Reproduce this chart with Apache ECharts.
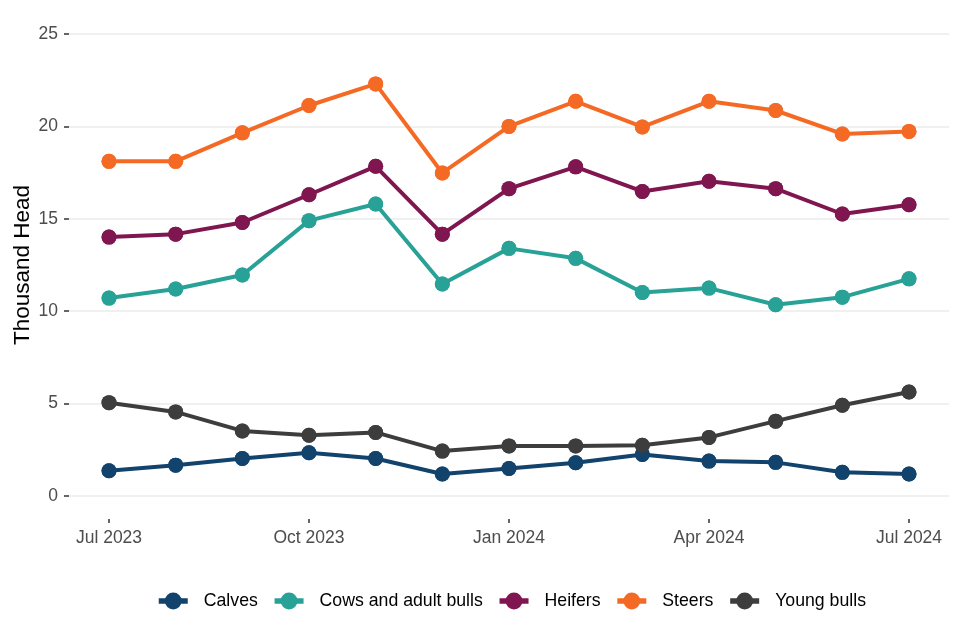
<!DOCTYPE html>
<html>
<head>
<meta charset="utf-8">
<script src="https://cdn.jsdelivr.net/npm/echarts@6/dist/echarts.min.js"></script>
<style>
html,body{margin:0;padding:0;background:#fff;}
#chart{width:960px;height:640px;}
</style>
</head>
<body>
<div id="chart"></div>
<script>
// Months (index 0 = Jul 2023 ... 12 = Jul 2024)
const months = ['2023-07','2023-08','2023-09','2023-10','2023-11','2023-12','2024-01','2024-02','2024-03','2024-04','2024-05','2024-06','2024-07'];
const tickPositions = [0, 3, 6, 9, 12];
const tickLabels = ['Jul 2023', 'Oct 2023', 'Jan 2024', 'Apr 2024', 'Jul 2024'];
const yTicks = [0, 5, 10, 15, 20, 25];

const seriesNames = ['Calves', 'Cows and adult bulls', 'Heifers', 'Steers', 'Young bulls'];
const calves     = [1.37, 1.67, 2.03, 2.34, 2.03, 1.19, 1.49, 1.80, 2.25, 1.89, 1.82, 1.28, 1.19];
const cows       = [10.71, 11.20, 11.96, 14.90, 15.80, 11.47, 13.40, 12.86, 11.01, 11.25, 10.35, 10.76, 11.75];
const heifers    = [14.01, 14.17, 14.80, 16.30, 17.84, 14.17, 16.63, 17.81, 16.48, 17.03, 16.63, 15.26, 15.76];
const steers     = [18.11, 18.11, 19.65, 21.13, 22.30, 17.48, 20.00, 21.36, 19.97, 21.36, 20.86, 19.59, 19.73];
const youngBulls = [5.05, 4.55, 3.52, 3.29, 3.44, 2.43, 2.71, 2.71, 2.75, 3.17, 4.05, 4.91, 5.63];
const colors = ['#12436D', '#28A197', '#801650', '#F46A25', '#3D3D3D'];

const allValues = [calves, cows, heifers, steers, youngBulls];

function pairs(vals) { return vals.map((v, i) => [i, v]); }

const lineSeries = seriesNames.map((name, k) => ({
  name: name,
  type: 'line',
  data: pairs(allValues[k]),
  symbol: 'circle',
  symbolSize: 15,
  showSymbol: true,
  lineStyle: { width: 4, color: colors[k] },
  itemStyle: { color: colors[k] },
  emphasis: { disabled: true },
  z: 2,
  animation: false
}));
const pointSeries = seriesNames.map((name, k) => ({
  name: name,
  type: 'scatter',
  data: pairs(allValues[k]),
  symbol: 'circle',
  symbolSize: 15,
  itemStyle: { color: colors[k], opacity: 1 },
  emphasis: { disabled: true },
  silent: true,
  z: 3,
  animation: false
}));

const chart = echarts.init(document.getElementById('chart'), null, { renderer: 'canvas' });
chart.setOption({
  backgroundColor: '#ffffff',
  animation: false,
  textStyle: { fontFamily: '"Liberation Sans", Arial, sans-serif' },
  color: colors,
  grid: { left: 69, right: 11, top: 34, bottom: 144, containLabel: false, outerBoundsMode: 'none' },
  xAxis: {
    type: 'value',
    min: -0.6,
    max: 12.6,
    offset: 23,
    axisLine: { show: false, onZero: false },
    splitLine: { show: false },
    axisTick: { show: true, length: 4, customValues: tickPositions, lineStyle: { color: '#333333', width: 1.5 } },
    axisLabel: {
      customValues: tickPositions,
      formatter: function (v) { const i = tickPositions.indexOf(Math.round(v)); return i >= 0 ? tickLabels[i] : ''; },
      color: '#4D4D4D', fontSize: 17.5, margin: 10
    }
  },
  yAxis: {
    type: 'value',
    min: yTicks[0],
    max: yTicks[yTicks.length - 1],
    interval: 5,
    name: 'Thousand Head',
    nameLocation: 'middle',
    nameGap: 35,
    nameMoveOverlap: false,
    nameRotate: 90,
    nameTextStyle: { color: '#000000', fontSize: 22.5 },
    axisLine: { show: false, onZero: false },
    axisTick: { show: true, length: 5, lineStyle: { color: '#333333', width: 1.5 } },
    axisLabel: { color: '#4D4D4D', fontSize: 17.5, margin: 11 },
    splitLine: { show: true, lineStyle: { color: '#EBEBEB', width: 1.5 } }
  },
  legend: {
    data: seriesNames,
    left: 156,
    top: 592,
    padding: 0,
    orient: 'horizontal',
    itemWidth: 29,
    itemHeight: 21,
    itemGap: 14,
    lineStyle: { width: 5.5 },
    textStyle: { color: '#000000', fontSize: 17.7, padding: [0, 0, 0, 11] },
    selectedMode: false
  },
  series: lineSeries.concat(pointSeries)
});
</script>
</body>
</html>
